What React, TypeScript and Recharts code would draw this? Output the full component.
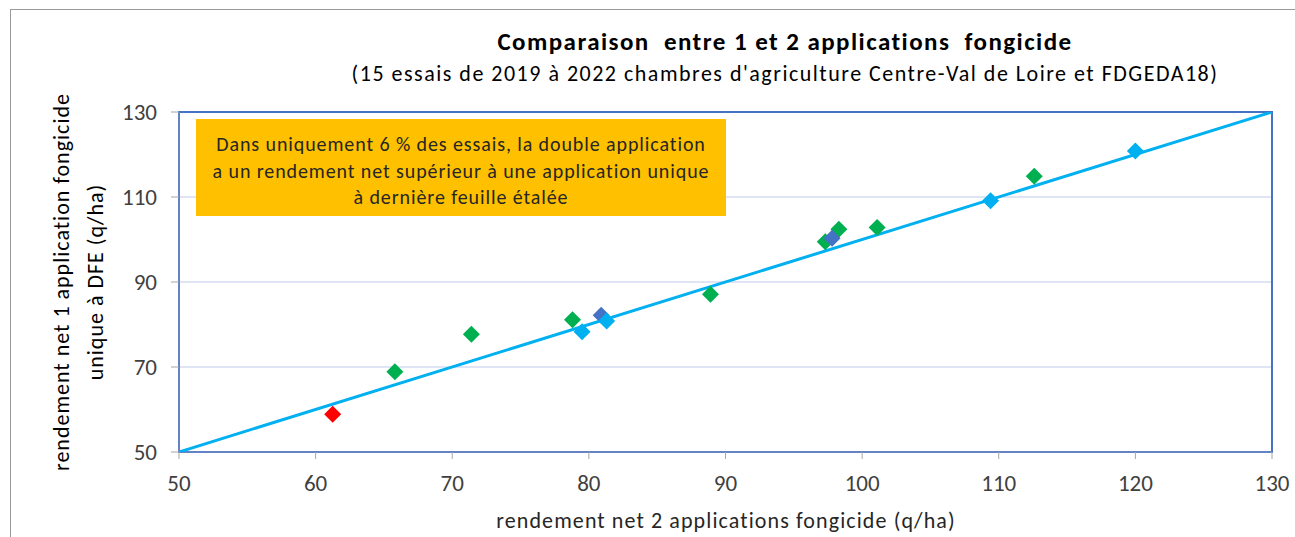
import React from "react";
import {
  ScatterChart,
  Scatter,
  XAxis,
  YAxis,
  CartesianGrid,
  ReferenceArea,
} from "recharts";

const xTicks = [50, 60, 70, 80, 90, 100, 110, 120, 130];
const yTicks = [50, 70, 90, 110, 130];

const greenX = [65.8, 71.4, 78.8, 88.9, 97.3, 98.3, 101.1, 112.6];
const greenY = [68.9, 77.7, 81.1, 87.1, 99.5, 102.4, 102.8, 114.9];
const lightBlueX = [79.5, 81.3, 109.4, 120.0];
const lightBlueY = [78.3, 80.8, 109.1, 120.8];
const darkBlueX = [80.9, 97.8];
const darkBlueY = [82.2, 100.3];
const redX = [61.25];
const redY = [58.9];
const lineX = [50, 130];
const lineY = [50, 130];

const zip = (xs: number[], ys: number[]) => xs.map((x, i) => ({ x, y: ys[i] }));

const greenData = zip(greenX, greenY);
const lightBlueData = zip(lightBlueX, lightBlueY);
const darkBlueData = zip(darkBlueX, darkBlueY);
const redData = zip(redX, redY);
const lineData = zip(lineX, lineY);

const FONT = "Carlito, Calibri, 'Liberation Sans', sans-serif";

const diamond = (color: string) => (props: any) => {
  const { cx, cy } = props;
  if (cx == null || cy == null) return <g />;
  const r = 8.5;
  return (
    <polygon
      points={`${cx},${cy - r} ${cx + r},${cy} ${cx},${cy + r} ${cx - r},${cy}`}
      fill={color}
    />
  );
};

export default function App() {
  return (
    <div
      style={{
        position: "absolute",
        left: 0,
        top: 0,
        width: 1295,
        height: 537,
        overflow: "hidden",
        background: "#fff",
        fontFamily: FONT,
      }}
    >
      <div
        style={{
          position: "absolute",
          left: 10,
          top: 9,
          width: 1300,
          height: 540,
          border: "1px solid #9a9a9a",
        }}
      />
      <ScatterChart
        width={1295}
        height={537}
        margin={{ top: 112, right: 23, bottom: 45, left: 119 }}
        style={{ position: "absolute", left: 0, top: 0 }}
      >
        <CartesianGrid vertical={false} stroke="#D5DCF2" strokeWidth={1.5} />
        <ReferenceArea
          x1={50}
          x2={130}
          y1={50}
          y2={130}
          fill="none"
          stroke="#4472C4"
          strokeWidth={2}
          ifOverflow="visible"
        />
        <XAxis
          type="number"
          dataKey="x"
          domain={[50, 130]}
          ticks={xTicks}
          allowDataOverflow
          height={40}
          tickSize={7}
          tickMargin={16}
          axisLine={{ stroke: "#7089C4", strokeWidth: 1.5 }}
          tickLine={{ stroke: "#A6A6A6" }}
          tick={{ fill: "#404040", fontSize: 23, fontFamily: FONT }}
        />
        <YAxis
          type="number"
          dataKey="y"
          domain={[50, 130]}
          ticks={yTicks}
          allowDataOverflow
          width={60}
          tickSize={8}
          tickMargin={14}
          axisLine={{ stroke: "#7089C4", strokeWidth: 1.5 }}
          tickLine={{ stroke: "#A6A6A6" }}
          tick={{ fill: "#404040", fontSize: 23, fontFamily: FONT }}
        />
        <Scatter
          data={lineData}
          line={{ stroke: "#00B0F0", strokeWidth: 3 }}
          shape={() => <g />}
          isAnimationActive={false}
        />
        <Scatter data={greenData} shape={diamond("#00B050")} isAnimationActive={false} />
        <Scatter data={darkBlueData} shape={diamond("#4472C4")} isAnimationActive={false} />
        <Scatter data={lightBlueData} shape={diamond("#00B0F0")} isAnimationActive={false} />
        <Scatter data={redData} shape={diamond("#FF0000")} isAnimationActive={false} />
      </ScatterChart>

      <div
        style={{
          position: "absolute",
          left: 196,
          top: 119,
          width: 530,
          height: 97,
          background: "#FFC000",
          color: "#262626",
          fontSize: 20,
          letterSpacing: 0.9,
          lineHeight: "26.5px",
          textAlign: "center",
          paddingTop: 12,
          boxSizing: "border-box",
          whiteSpace: "nowrap",
        }}
      >
        Dans uniquement 6 % des essais, la double application
        <br />a un rendement net supérieur à une application unique
        <br />à dernière feuille étalée
      </div>

      <div
        style={{
          position: "absolute",
          left: 285,
          width: 1000,
          top: 27,
          lineHeight: "30px",
          textAlign: "center",
          fontWeight: "bold",
          fontSize: 25,
          letterSpacing: 1.45,
          color: "#000",
          whiteSpace: "pre",
        }}
      >
        {"Comparaison  entre 1 et 2 applications  fongicide"}
      </div>
      <div
        style={{
          position: "absolute",
          left: 235,
          width: 1100,
          top: 61,
          lineHeight: "26px",
          textAlign: "center",
          fontSize: 22,
          letterSpacing: 1.5,
          color: "#000",
          whiteSpace: "nowrap",
        }}
      >
        (15 essais de 2019 à 2022 chambres d'agriculture Centre-Val de Loire et FDGEDA18)
      </div>
      <div
        style={{
          position: "absolute",
          left: 426,
          width: 600,
          top: 508,
          lineHeight: "26px",
          textAlign: "center",
          fontSize: 22,
          letterSpacing: 1.1,
          color: "#262626",
          whiteSpace: "nowrap",
        }}
      >
        rendement net 2 applications fongicide (q/ha)
      </div>
      <div
        style={{
          position: "absolute",
          left: 79 - 300,
          top: 282 - 34,
          width: 600,
          height: 68,
          transform: "rotate(-90deg)",
          textAlign: "center",
          fontSize: 22,
          letterSpacing: 1,
          lineHeight: "34px",
          color: "#000",
          whiteSpace: "nowrap",
        }}
      >
        rendement net 1 application fongicide
        <br />
        unique à DFE (q/ha)
      </div>
    </div>
  );
}
